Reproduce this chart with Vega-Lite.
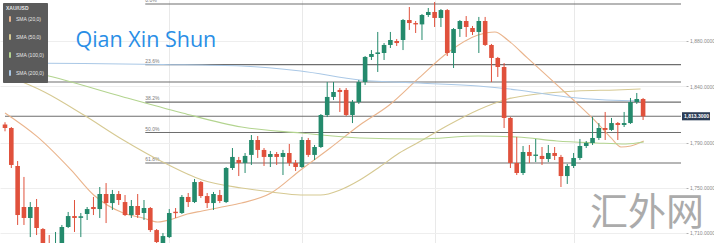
{
  "$schema": "https://vega.github.io/schema/vega-lite/v6.json",
  "width": 686,
  "height": 243,
  "autosize": "none",
  "padding": {"left": 0, "top": 0, "right": 28, "bottom": 0},
  "background": "#ffffff",
  "config": {"view": {"stroke": null}, "font": "Liberation Sans"},
  "datasets": {
    "candles": [
      {"i":0,"o":1806.0,"h":1808.0,"l":1800.0,"c":1802.9},
      {"i":1,"o":1802.9,"h":1803.8,"l":1767.5,"c":1770.2},
      {"i":2,"o":1769.3,"h":1773.7,"l":1717.1,"c":1725.9},
      {"i":3,"o":1733.0,"h":1759.6,"l":1717.1,"c":1723.3},
      {"i":4,"o":1723.3,"h":1737.4,"l":1706.4,"c":1733.0},
      {"i":5,"o":1733.0,"h":1740.1,"l":1708.2,"c":1714.4},
      {"i":6,"o":1713.5,"h":1714.4,"l":1695.0,"c":1698.5},
      {"i":7,"o":1700.3,"h":1708.2,"l":1690.5,"c":1693.2},
      {"i":8,"o":1693.2,"h":1710.9,"l":1690.5,"c":1699.4},
      {"i":9,"o":1699.4,"h":1717.1,"l":1696.7,"c":1715.3},
      {"i":10,"o":1715.3,"h":1728.6,"l":1714.4,"c":1725.0},
      {"i":11,"o":1725.0,"h":1739.2,"l":1710.9,"c":1723.3},
      {"i":12,"o":1723.4,"h":1727.7,"l":1706.4,"c":1724.8},
      {"i":13,"o":1726.8,"h":1733.0,"l":1721.5,"c":1731.2},
      {"i":14,"o":1733.0,"h":1741.9,"l":1725.9,"c":1731.2},
      {"i":15,"o":1731.2,"h":1750.7,"l":1723.3,"c":1744.5},
      {"i":16,"o":1744.5,"h":1754.2,"l":1718.8,"c":1736.5},
      {"i":17,"o":1736.5,"h":1748.1,"l":1730.4,"c":1744.5},
      {"i":18,"o":1744.5,"h":1747.2,"l":1734.8,"c":1739.2},
      {"i":19,"o":1737.4,"h":1743.6,"l":1725.0,"c":1725.9},
      {"i":20,"o":1725.9,"h":1739.2,"l":1723.3,"c":1733.9},
      {"i":21,"o":1733.9,"h":1744.5,"l":1723.3,"c":1725.9},
      {"i":22,"o":1727.7,"h":1739.2,"l":1721.5,"c":1732.1},
      {"i":23,"o":1732.1,"h":1733.0,"l":1710.9,"c":1712.6},
      {"i":24,"o":1712.6,"h":1713.5,"l":1698.5,"c":1702.0},
      {"i":25,"o":1701.1,"h":1710.0,"l":1698.5,"c":1707.3},
      {"i":26,"o":1706.4,"h":1731.2,"l":1705.6,"c":1727.7},
      {"i":27,"o":1728.8,"h":1732.1,"l":1723.3,"c":1727.6},
      {"i":28,"o":1727.7,"h":1743.6,"l":1726.8,"c":1741.9},
      {"i":29,"o":1741.9,"h":1745.4,"l":1733.0,"c":1737.4},
      {"i":30,"o":1737.4,"h":1757.8,"l":1736.5,"c":1755.1},
      {"i":31,"o":1755.1,"h":1756.0,"l":1741.0,"c":1742.7},
      {"i":32,"o":1742.7,"h":1745.4,"l":1732.1,"c":1736.5},
      {"i":33,"o":1736.5,"h":1746.3,"l":1730.4,"c":1744.5},
      {"i":34,"o":1743.6,"h":1748.1,"l":1736.5,"c":1738.3},
      {"i":35,"o":1737.4,"h":1768.4,"l":1736.5,"c":1767.5},
      {"i":36,"o":1767.5,"h":1785.2,"l":1765.8,"c":1777.3},
      {"i":37,"o":1774.6,"h":1777.3,"l":1760.4,"c":1772.0},
      {"i":38,"o":1772.0,"h":1780.8,"l":1763.1,"c":1778.2},
      {"i":39,"o":1779.1,"h":1796.7,"l":1770.2,"c":1792.3},
      {"i":40,"o":1792.3,"h":1795.8,"l":1776.4,"c":1783.5},
      {"i":41,"o":1783.5,"h":1785.2,"l":1769.3,"c":1777.3},
      {"i":42,"o":1777.3,"h":1782.6,"l":1768.4,"c":1779.9},
      {"i":43,"o":1779.9,"h":1781.7,"l":1770.2,"c":1777.3},
      {"i":44,"o":1777.3,"h":1783.5,"l":1761.3,"c":1780.8},
      {"i":45,"o":1780.8,"h":1788.8,"l":1769.3,"c":1772.0},
      {"i":46,"o":1772.0,"h":1774.6,"l":1764.9,"c":1768.4},
      {"i":47,"o":1768.4,"h":1795.0,"l":1767.5,"c":1792.3},
      {"i":48,"o":1792.3,"h":1794.1,"l":1777.3,"c":1779.1},
      {"i":49,"o":1779.1,"h":1787.9,"l":1774.6,"c":1786.1},
      {"i":50,"o":1786.1,"h":1815.3,"l":1785.2,"c":1814.4},
      {"i":51,"o":1814.4,"h":1843.6,"l":1812.6,"c":1830.4},
      {"i":52,"o":1830.4,"h":1843.6,"l":1827.7,"c":1834.8},
      {"i":53,"o":1836.6,"h":1838.3,"l":1817.1,"c":1834.8},
      {"i":54,"o":1836.6,"h":1838.3,"l":1813.5,"c":1814.4},
      {"i":55,"o":1814.4,"h":1827.7,"l":1807.3,"c":1825.9},
      {"i":56,"o":1825.9,"h":1845.4,"l":1824.2,"c":1843.6},
      {"i":57,"o":1843.6,"h":1866.6,"l":1841.0,"c":1865.8},
      {"i":58,"o":1865.8,"h":1871.9,"l":1863.1,"c":1868.4},
      {"i":59,"o":1868.4,"h":1887.9,"l":1852.5,"c":1869.8},
      {"i":60,"o":1869.3,"h":1878.1,"l":1863.1,"c":1876.4},
      {"i":61,"o":1876.4,"h":1887.9,"l":1873.7,"c":1880.8},
      {"i":62,"o":1879.9,"h":1881.7,"l":1875.5,"c":1878.1},
      {"i":63,"o":1880.8,"h":1899.4,"l":1871.9,"c":1898.5},
      {"i":64,"o":1898.5,"h":1910.0,"l":1889.7,"c":1895.8},
      {"i":65,"o":1895.8,"h":1897.6,"l":1887.0,"c":1894.6},
      {"i":66,"o":1894.6,"h":1903.8,"l":1880.8,"c":1902.9},
      {"i":67,"o":1902.9,"h":1909.1,"l":1901.2,"c":1905.6},
      {"i":68,"o":1905.6,"h":1914.4,"l":1892.3,"c":1900.3},
      {"i":69,"o":1900.3,"h":1908.2,"l":1892.3,"c":1907.3},
      {"i":70,"o":1907.3,"h":1908.2,"l":1866.6,"c":1869.3},
      {"i":71,"o":1869.3,"h":1891.4,"l":1856.0,"c":1890.5},
      {"i":72,"o":1890.5,"h":1898.5,"l":1883.5,"c":1897.6},
      {"i":73,"o":1897.6,"h":1902.0,"l":1883.5,"c":1892.3},
      {"i":74,"o":1891.4,"h":1893.2,"l":1885.2,"c":1887.9},
      {"i":75,"o":1887.9,"h":1901.2,"l":1869.3,"c":1897.6},
      {"i":76,"o":1897.6,"h":1901.2,"l":1875.5,"c":1876.4},
      {"i":77,"o":1876.4,"h":1877.3,"l":1843.6,"c":1864.9},
      {"i":78,"o":1864.9,"h":1865.8,"l":1848.1,"c":1856.9},
      {"i":79,"o":1856.9,"h":1860.4,"l":1802.9,"c":1811.8},
      {"i":80,"o":1811.8,"h":1812.6,"l":1767.5,"c":1772.0},
      {"i":81,"o":1772.0,"h":1795.0,"l":1761.3,"c":1763.1},
      {"i":82,"o":1763.1,"h":1787.0,"l":1761.3,"c":1781.7},
      {"i":83,"o":1781.7,"h":1787.9,"l":1772.0,"c":1778.2},
      {"i":84,"o":1778.2,"h":1793.2,"l":1772.8,"c":1779.4},
      {"i":85,"o":1778.2,"h":1786.1,"l":1770.2,"c":1775.5},
      {"i":86,"o":1775.5,"h":1787.9,"l":1772.8,"c":1780.8},
      {"i":87,"o":1780.8,"h":1786.1,"l":1774.6,"c":1778.2},
      {"i":88,"o":1777.3,"h":1779.1,"l":1750.7,"c":1760.4},
      {"i":89,"o":1760.4,"h":1771.1,"l":1753.4,"c":1769.3},
      {"i":90,"o":1769.3,"h":1780.8,"l":1767.5,"c":1776.4},
      {"i":91,"o":1776.4,"h":1793.2,"l":1774.6,"c":1787.0},
      {"i":92,"o":1787.0,"h":1791.4,"l":1785.2,"c":1789.7},
      {"i":93,"o":1789.7,"h":1812.6,"l":1787.9,"c":1794.1},
      {"i":94,"o":1794.1,"h":1807.3,"l":1792.3,"c":1802.9},
      {"i":95,"o":1802.9,"h":1817.1,"l":1792.3,"c":1801.2},
      {"i":96,"o":1801.2,"h":1811.8,"l":1800.3,"c":1807.3},
      {"i":97,"o":1807.3,"h":1808.2,"l":1792.3,"c":1805.6},
      {"i":98,"o":1805.6,"h":1817.1,"l":1803.8,"c":1807.3},
      {"i":99,"o":1807.3,"h":1829.5,"l":1806.5,"c":1825.9},
      {"i":100,"o":1825.9,"h":1833.9,"l":1824.2,"c":1828.6},
      {"i":101,"o":1828.6,"h":1829.5,"l":1810.0,"c":1813.3}
    ],
    "sma": [
      {"s":"SMA (20,0)","i":0,"v":1816.2},
      {"s":"SMA (20,0)","i":5.15,"v":1795.0},
      {"s":"SMA (20,0)","i":10.45,"v":1765.8},
      {"s":"SMA (20,0)","i":14.04,"v":1743.6},
      {"s":"SMA (20,0)","i":18.72,"v":1727.7},
      {"s":"SMA (20,0)","i":21.84,"v":1723.3},
      {"s":"SMA (20,0)","i":24.18,"v":1719.8},
      {"s":"SMA (20,0)","i":26.52,"v":1722.4},
      {"s":"SMA (20,0)","i":28.86,"v":1726.8},
      {"s":"SMA (20,0)","i":31.2,"v":1729.5},
      {"s":"SMA (20,0)","i":34.32,"v":1733.0},
      {"s":"SMA (20,0)","i":37.44,"v":1736.5},
      {"s":"SMA (20,0)","i":42.12,"v":1745.4},
      {"s":"SMA (20,0)","i":46.8,"v":1765.8},
      {"s":"SMA (20,0)","i":51.48,"v":1785.2},
      {"s":"SMA (20,0)","i":56.16,"v":1805.6},
      {"s":"SMA (20,0)","i":60.84,"v":1823.3},
      {"s":"SMA (20,0)","i":65.52,"v":1847.2},
      {"s":"SMA (20,0)","i":70.2,"v":1870.2},
      {"s":"SMA (20,0)","i":74.88,"v":1885.2},
      {"s":"SMA (20,0)","i":77.54,"v":1887.9},
      {"s":"SMA (20,0)","i":79.56,"v":1880.8},
      {"s":"SMA (20,0)","i":82.68,"v":1864.9},
      {"s":"SMA (20,0)","i":87.36,"v":1841.0},
      {"s":"SMA (20,0)","i":90.48,"v":1825.0},
      {"s":"SMA (20,0)","i":93.6,"v":1808.2},
      {"s":"SMA (20,0)","i":95.94,"v":1794.1},
      {"s":"SMA (20,0)","i":97.5,"v":1786.1},
      {"s":"SMA (20,0)","i":99.06,"v":1787.0},
      {"s":"SMA (20,0)","i":101.1,"v":1791.4},
      {"s":"SMA (50,0)","i":0,"v":1849.8},
      {"s":"SMA (50,0)","i":6.24,"v":1834.8},
      {"s":"SMA (50,0)","i":12.48,"v":1814.4},
      {"s":"SMA (50,0)","i":18.72,"v":1792.3},
      {"s":"SMA (50,0)","i":24.96,"v":1772.8},
      {"s":"SMA (50,0)","i":31.2,"v":1756.9},
      {"s":"SMA (50,0)","i":37.44,"v":1749.8},
      {"s":"SMA (50,0)","i":42.12,"v":1746.3},
      {"s":"SMA (50,0)","i":46.8,"v":1743.6},
      {"s":"SMA (50,0)","i":49.92,"v":1743.6},
      {"s":"SMA (50,0)","i":53.04,"v":1748.1},
      {"s":"SMA (50,0)","i":56.16,"v":1756.9},
      {"s":"SMA (50,0)","i":59.28,"v":1768.4},
      {"s":"SMA (50,0)","i":62.4,"v":1780.8},
      {"s":"SMA (50,0)","i":65.52,"v":1790.5},
      {"s":"SMA (50,0)","i":70.2,"v":1805.6},
      {"s":"SMA (50,0)","i":74.88,"v":1818.9},
      {"s":"SMA (50,0)","i":79.56,"v":1828.6},
      {"s":"SMA (50,0)","i":84.24,"v":1833.0},
      {"s":"SMA (50,0)","i":90.48,"v":1835.7},
      {"s":"SMA (50,0)","i":96.72,"v":1836.6},
      {"s":"SMA (50,0)","i":100.6,"v":1837.4},
      {"s":"SMA (100,0)","i":0,"v":1858.7},
      {"s":"SMA (100,0)","i":9.36,"v":1845.4},
      {"s":"SMA (100,0)","i":18.72,"v":1830.4},
      {"s":"SMA (100,0)","i":28.08,"v":1816.2},
      {"s":"SMA (100,0)","i":37.44,"v":1803.8},
      {"s":"SMA (100,0)","i":46.8,"v":1798.5},
      {"s":"SMA (100,0)","i":56.16,"v":1794.1},
      {"s":"SMA (100,0)","i":65.52,"v":1793.2},
      {"s":"SMA (100,0)","i":74.88,"v":1795.8},
      {"s":"SMA (100,0)","i":81.12,"v":1795.0},
      {"s":"SMA (100,0)","i":87.36,"v":1791.4},
      {"s":"SMA (100,0)","i":93.6,"v":1789.7},
      {"s":"SMA (100,0)","i":98.28,"v":1788.8},
      {"s":"SMA (100,0)","i":101.1,"v":1790.5},
      {"s":"SMA (200,0)","i":0,"v":1860.4},
      {"s":"SMA (200,0)","i":12.48,"v":1860.0},
      {"s":"SMA (200,0)","i":24.96,"v":1859.1},
      {"s":"SMA (200,0)","i":37.44,"v":1857.8},
      {"s":"SMA (200,0)","i":46.8,"v":1853.4},
      {"s":"SMA (200,0)","i":56.16,"v":1845.4},
      {"s":"SMA (200,0)","i":65.52,"v":1842.7},
      {"s":"SMA (200,0)","i":74.88,"v":1840.1},
      {"s":"SMA (200,0)","i":81.12,"v":1836.6},
      {"s":"SMA (200,0)","i":88.92,"v":1830.4},
      {"s":"SMA (200,0)","i":95.16,"v":1827.7},
      {"s":"SMA (200,0)","i":101.1,"v":1826.8}
    ],
    "levels": [
      {"label":"0.0%","price":1912.65,"x0":22.2,"x1":107},
      {"label":"23.6%","price":1859.0,"x0":22.2,"x1":107},
      {"label":"38.2%","price":1825.8,"x0":22.2,"x1":107},
      {"label":"50.0%","price":1798.9,"x0":22.2,"x1":107},
      {"label":"61.8%","price":1772.0,"x0":22.2,"x1":107},
      {"label":"","price":1843.6,"x0":0,"x1":107},
      {"label":"","price":1813.3,"x0":0,"x1":107}
    ],
    "notes": [
      {"site":"Qian Xin Shun","mark":"汇外网","last":"1,813.3000"}
    ]
  },
  "layer": [
    {
      "data": {"name": "levels"},
      "mark": {"type": "rule", "color": "#6e6e6e", "strokeWidth": 1.1},
      "encoding": {
        "x": {"field": "x0", "type": "quantitative", "title": null,
              "scale": {"domain": [0, 107], "nice": false, "zero": false},
              "axis": {"values": [26, 47, 68, 90], "grid": true, "gridColor": "#e9e9e9", "gridWidth": 1, "labels": false, "ticks": false, "domain": false, "title": null}},
        "x2": {"field": "x1"},
        "y": {"field": "price", "type": "quantitative", "title": null,
              "scale": {"domain": [1701.15, 1916.19], "nice": false, "zero": false},
              "axis": {"orient": "right", "values": [1710,1720,1730,1740,1750,1760,1770,1780,1790,1800,1820,1830,1840,1850,1860,1870,1880,1890,1900,1910],
                       "format": ",.4f", "grid": true, "gridColor": "#eeeeee", "domain": false, "tickSize": 2, "tickColor": "#b0b0b0",
                       "labelOverlap": false, "labelBound": false, "labelFlush": false,
                       "labelFontSize": 5, "labelColor": "#8a8a8a", "labelPadding": 1.5, "labelFont": "Liberation Sans", "title": null}}
      }
    },
    {
      "data": {"name": "levels"},
      "transform": [{"filter": "datum.label != ''"}],
      "mark": {"type": "text", "align": "left", "baseline": "bottom", "dy": -1, "fontSize": 5, "color": "#7a7a7a"},
      "encoding": {
        "x": {"field": "x0", "type": "quantitative", "title": null},
        "y": {"field": "price", "type": "quantitative", "title": null},
        "text": {"field": "label"}
      }
    },
    {
      "data": {"name": "sma"},
      "mark": {"type": "line", "strokeWidth": 1.1, "interpolate": "monotone"},
      "encoding": {
        "x": {"field": "i", "type": "quantitative", "title": null},
        "y": {"field": "v", "type": "quantitative", "title": null},
        "color": {"field": "s", "type": "nominal",
          "scale": {"domain": ["SMA (20,0)", "SMA (50,0)", "SMA (100,0)", "SMA (200,0)"], "range": ["#eab48c", "#d6c992", "#b3d48f", "#aac8e6"]},
          "legend": {"title": "XAU/USD", "orient": "top-left", "offset": 3, "fillColor": "#5b5b5b", "padding": 3, "cornerRadius": 1,
                     "titleFontSize": 5, "titleColor": "#e6e6e6", "titlePadding": 4, "titleFont": "Liberation Sans",
                     "labelFontSize": 5, "labelColor": "#e6e6e6", "labelFont": "Liberation Sans", "rowPadding": 4,
                     "symbolType": "M0,-1L0,1", "symbolStrokeWidth": 2, "symbolSize": 30, "labelOffset": 2}}
      }
    },
    {
      "data": {"name": "candles"},
      "mark": {"type": "rule", "strokeWidth": 1},
      "encoding": {
        "x": {"field": "i", "type": "quantitative", "title": null},
        "y": {"field": "l", "type": "quantitative", "title": null},
        "y2": {"field": "h"},
        "color": {"condition": {"test": "datum.c >= datum.o", "value": "#248a6c"}, "value": "#e0513c"}
      }
    },
    {
      "data": {"name": "candles"},
      "mark": {"type": "bar", "size": 4.6},
      "encoding": {
        "x": {"field": "i", "type": "quantitative", "title": null},
        "y": {"field": "o", "type": "quantitative", "title": null},
        "y2": {"field": "c"},
        "color": {"condition": {"test": "datum.c >= datum.o", "value": "#248a6c"}, "value": "#e0513c"}
      }
    },
    {
      "data": {"name": "notes"},
      "mark": {"type": "text", "align": "center", "baseline": "middle", "font": "Open Sans", "fontSize": 21.5, "color": "#2a8ee6"},
      "encoding": {
        "x": {"datum": 22.3, "type": "quantitative"},
        "y": {"datum": 1879.9, "type": "quantitative"},
        "text": {"field": "site"}
      }
    },
    {
      "data": {"name": "notes"},
      "mark": {"type": "text", "align": "center", "baseline": "middle", "font": "Noto Sans CJK SC", "fontSize": 38, "color": "#ababab"},
      "encoding": {
        "x": {"datum": 101.6, "type": "quantitative"},
        "y": {"datum": 1726.8, "type": "quantitative"},
        "text": {"field": "mark"}
      }
    },
    {
      "data": {"name": "notes"},
      "mark": {"type": "point", "shape": "M-1,-0.29L1,-0.29L1,0.29L-1,0.29Z", "size": 784, "filled": true, "opacity": 1, "color": "#2c3d56", "xOffset": 15},
      "encoding": {
        "x": {"datum": 107, "type": "quantitative"},
        "y": {"datum": 1813.3, "type": "quantitative"}
      }
    },
    {
      "data": {"name": "notes"},
      "mark": {"type": "text", "align": "left", "baseline": "middle", "dx": 3, "fontSize": 5, "fontWeight": "bold", "color": "#ffffff"},
      "encoding": {
        "x": {"datum": 107, "type": "quantitative"},
        "y": {"datum": 1813.3, "type": "quantitative"},
        "text": {"field": "last"}
      }
    }
  ]
}
